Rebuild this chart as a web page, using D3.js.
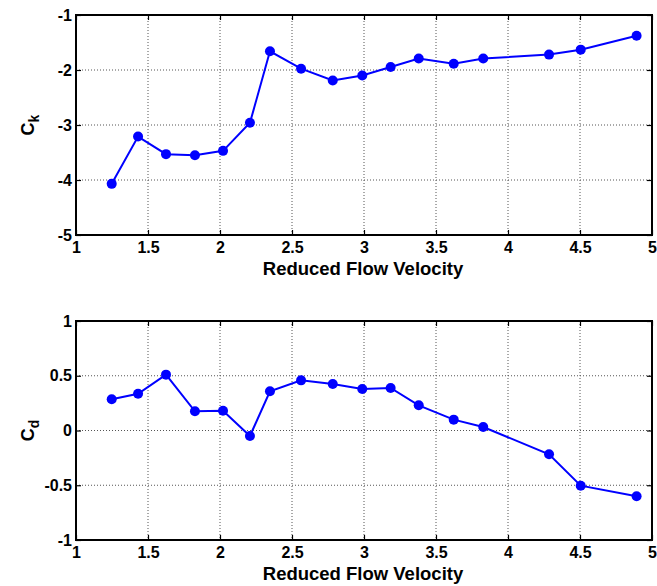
<!DOCTYPE html>
<html>
<head>
<meta charset="utf-8">
<script src="https://cdn.jsdelivr.net/npm/d3@7/dist/d3.min.js"></script>
<style>
  html, body { margin: 0; padding: 0; background: #fff; }
  svg { display: block; font-family: "Liberation Sans", Arial, sans-serif; font-weight: bold; }
</style>
</head>
<body>
<svg id="chart" width="657" height="586"></svg>
<script>
// Reduced flow velocity (shared by both panels)
const velocity = [1.248, 1.431, 1.625, 1.826, 2.021, 2.208, 2.347, 2.563, 2.783,
                  2.988, 3.185, 3.380, 3.623, 3.828, 4.285, 4.505, 4.893];
// Stiffness coefficient C_k
const ck = [-4.07, -3.21, -3.53, -3.55, -3.47, -2.96, -1.66, -1.976, -2.19,
            -2.10, -1.945, -1.79, -1.885, -1.79, -1.72, -1.63, -1.376];
// Damping coefficient C_d
const cd = [0.285, 0.336, 0.51, 0.175, 0.181, -0.05, 0.358, 0.458, 0.425,
            0.379, 0.388, 0.23, 0.099, 0.032, -0.217, -0.504, -0.60];

const xTicks = [1, 1.5, 2, 2.5, 3, 3.5, 4, 4.5, 5];
const ckTicks = [-5, -4, -3, -2, -1];
const cdTicks = [-1, -0.5, 0, 0.5, 1];

const svg = d3.select("#chart");

function panel(opts) {
  const { top, bottom, left, right, yDomain, yTicks, values, sub } = opts;
  const x = d3.scaleLinear().domain([1, 5]).range([left, right]);
  const y = d3.scaleLinear().domain(yDomain).range([bottom, top]);
  const g = svg.append("g");

  // dotted grid
  g.append("g").selectAll("line.vx")
    .data(xTicks.filter(t => t > 1 && t < 5)).join("line")
    .attr("x1", d => x(d)).attr("x2", d => x(d))
    .attr("y1", top).attr("y2", bottom)
    .attr("stroke", "#555").attr("stroke-width", 1).attr("stroke-dasharray", "1,2");
  g.append("g").selectAll("line.hy")
    .data(yTicks.filter(t => t > yDomain[0] && t < yDomain[1])).join("line")
    .attr("x1", left).attr("x2", right)
    .attr("y1", d => y(d)).attr("y2", d => y(d))
    .attr("stroke", "#555").attr("stroke-width", 1).attr("stroke-dasharray", "1,2");

  // inward tick marks on all four sides
  const tl = 5;
  const xAxisB = d3.axisBottom(x).tickValues(xTicks).tickSize(-tl).tickFormat(d3.format("~g"));
  const xAxisT = d3.axisTop(x).tickValues(xTicks).tickSize(-tl).tickFormat("");
  const yAxisL = d3.axisLeft(y).tickValues(yTicks).tickSize(-tl).tickFormat(d3.format("~g"));
  const yAxisR = d3.axisRight(y).tickValues(yTicks).tickSize(-tl).tickFormat("");

  const styleAxis = sel => {
    sel.select(".domain").remove();
    sel.selectAll(".tick line").attr("stroke", "#000").attr("stroke-width", 1.2);
    sel.selectAll(".tick text").attr("fill", "#000")
      .style("font-family", "'Liberation Sans', Arial, sans-serif")
      .style("font-weight", "bold").style("font-size", "16px");
  };
  g.append("g").attr("transform", `translate(0,${bottom})`).call(xAxisB).call(styleAxis)
    .selectAll(".tick text").attr("dy", "0.95em").attr("y", 3);
  g.append("g").attr("transform", `translate(0,${top})`).call(xAxisT).call(styleAxis);
  g.append("g").attr("transform", `translate(${left},0)`).call(yAxisL).call(styleAxis)
    .selectAll(".tick text").attr("x", -4).text(d => d3.format("~g")(d).replace("−", "-"));
  g.append("g").attr("transform", `translate(${right},0)`).call(yAxisR).call(styleAxis);

  // box
  g.append("rect").attr("x", left).attr("y", top)
    .attr("width", right - left).attr("height", bottom - top)
    .attr("fill", "none").attr("stroke", "#000").attr("stroke-width", 2);

  // series
  const pts = velocity.map((v, i) => [v, values[i]]);
  g.append("path").datum(pts)
    .attr("d", d3.line().x(d => x(d[0])).y(d => y(d[1])))
    .attr("fill", "none").attr("stroke", "#0000ff").attr("stroke-width", 2);
  g.append("g").selectAll("circle").data(pts).join("circle")
    .attr("cx", d => x(d[0])).attr("cy", d => y(d[1])).attr("r", 5)
    .attr("fill", "#0000ff");

  // x label
  g.append("text").attr("x", (left + right) / 2 - 1).attr("y", bottom + 40)
    .attr("text-anchor", "middle").style("font-size", "18.5px")
    .text("Reduced Flow Velocity");

  // y label: C with subscript
  const yl = g.append("text")
    .attr("transform", `translate(34,${(top + bottom) / 2}) rotate(-90)`)
    .attr("text-anchor", "middle").style("font-size", "18px");
  yl.append("tspan").text("C");
  yl.append("tspan").attr("dy", 5).style("font-size", "14px").text(sub);
}

panel({ top: 15, bottom: 235, left: 76, right: 652, yDomain: [-5, -1], yTicks: ckTicks, values: ck, sub: "k" });
panel({ top: 321, bottom: 540, left: 76, right: 652, yDomain: [-1, 1], yTicks: cdTicks, values: cd, sub: "d" });
</script>
</body>
</html>
